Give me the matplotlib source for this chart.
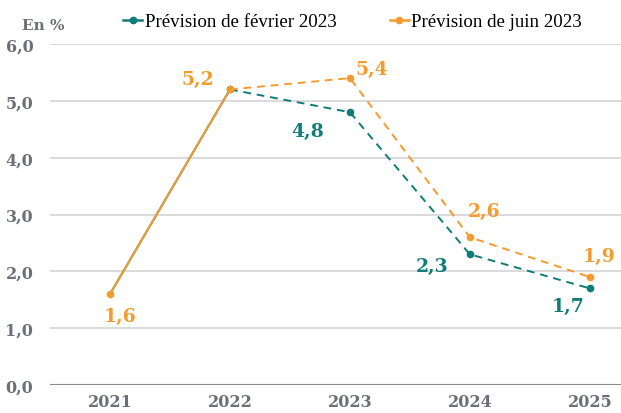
import numpy as np
import matplotlib.pyplot as plt
from matplotlib.lines import Line2D

years = ["2021", "2022", "2023", "2024", "2025"]
fev = [1.6, 5.2, 4.8, 2.3, 1.7]
juin = [1.6, 5.2, 5.4, 2.6, 1.9]
yticks = [0, 1, 2, 3, 4, 5, 6]

teal = "#0e7c78"
orange = "#f59b2e"
grey = "#6b6f78"

plt.rcParams['font.family'] = ['DejaVu Serif']

fig = plt.figure(figsize=(6.21, 4.14), dpi=100)
ax = fig.add_axes([0.0805, 0.0676, 0.9195, 0.8237])

x = np.arange(len(years))

# fevrier : solid 2021-2022, dashed after
ax.plot(x[:2], fev[:2], color=teal, lw=1.4)
ax.plot(x[1:], fev[1:], color=teal, lw=1.4, ls=(0, (4, 3)))
ax.plot(x[1:], fev[1:], 'o', color=teal, ms=4.5)
# juin
ax.plot(x[:2], juin[:2], color=orange, lw=1.4)
ax.plot(x[1:], juin[1:], color=orange, lw=1.4, ls=(0, (4, 3)))
ax.plot(x, juin, 'o', color=orange, ms=4.5)

# etiquettes (offsets en pixels)
lab = dict(fontsize=13.5, fontweight='bold')
def fmt(v):
    return f"{v:.1f}".replace(".", ",")

offs_j = [(10, -22), (-32, 10), (22, 9), (14, 26), (9, 21)]
offs_f = [None, None, (-42, -19), (-38, -12), (-22, -18)]
for i, v in enumerate(juin):
    dx, dy = offs_j[i]
    ax.annotate(fmt(v), (x[i], v), xytext=(dx, dy), textcoords='offset pixels',
                ha='center', va='center', color=orange, **lab)
for i, v in enumerate(fev):
    if offs_f[i] is None:
        continue
    dx, dy = offs_f[i]
    ax.annotate(fmt(v), (x[i], v), xytext=(dx, dy), textcoords='offset pixels',
                ha='center', va='center', color=teal, **lab)

ax.set_xlim(-0.5, 4.26)
ax.set_ylim(0, 6)
ax.set_yticks(yticks)
ax.set_yticklabels([fmt(t) for t in yticks], color=grey, fontweight='bold', fontsize=11.5)
ax.set_xticks(x)
ax.set_xticklabels(years, color=grey, fontweight='bold', fontsize=11.5)
ax.tick_params(length=0, pad=12)
ax.tick_params(axis='x', pad=6)
for t in yticks[1:]:
    ax.axhline(t, color="#d4d4d4", lw=1.2, zorder=0)
ax.axhline(0, color="#8a8a8a", lw=1.5, zorder=0)
for s in ax.spines.values():
    s.set_visible(False)

fig.text(0.07, 0.937, "En %", color=grey, fontweight='bold', fontsize=11, ha='center', va='center')

handles = [Line2D([0], [0], color=teal, lw=1.8, marker='o', ms=4.5),
           Line2D([0], [0], color=orange, lw=1.8, marker='o', ms=4.5)]
leg = fig.legend(handles, ["Prévision de février 2023", "Prévision de juin 2023"],
                 loc='center', bbox_to_anchor=(0.568, 0.945), ncol=2, frameon=False,
                 prop={'family': 'Liberation Serif', 'size': 13.6}, handlelength=1.0,
                 handletextpad=0.15, columnspacing=2.8)

fig.savefig("out.png", dpi=100)
